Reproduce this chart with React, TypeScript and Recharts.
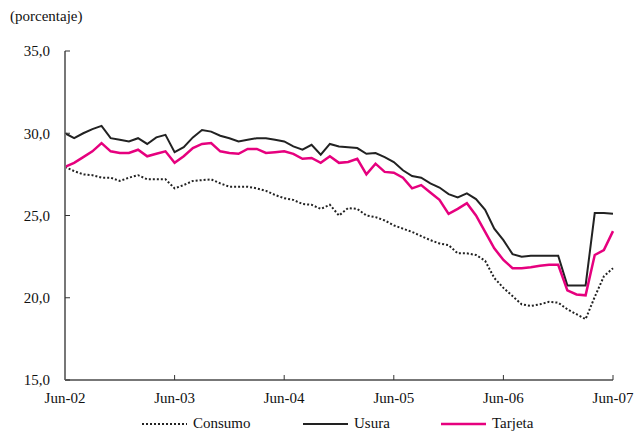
import { LineChart, Line, XAxis, YAxis } from "recharts";

const years = ["02", "03", "04", "05", "06", "07"];
const monthNames = ["Jun", "Jul", "Ago", "Sep", "Oct", "Nov", "Dic", "Ene", "Feb", "Mar", "Abr", "May"];

// monthly from Jun-02 to Jun-07
const months: string[] = [];
years.forEach((y, yi) => {
  monthNames.forEach((m, mi) => {
    if (yi === years.length - 1 && mi > 0) return;
    const yr = mi >= 7 ? years[yi + 1] : y;
    if (yr) months.push(`${m}-${yr}`);
  });
});

const xTicks = ["Jun-02", "Jun-03", "Jun-04", "Jun-05", "Jun-06", "Jun-07"];
const yTicks = [15, 20, 25, 30, 35];

const consumo = [
  27.95, 27.7, 27.5, 27.45, 27.3, 27.3, 27.1, 27.3, 27.45, 27.2, 27.2, 27.2,
  26.65, 26.85, 27.1, 27.15, 27.2, 26.95, 26.75, 26.75, 26.75, 26.65, 26.5, 26.25,
  26.05, 25.95, 25.7, 25.65, 25.4, 25.65, 25.0, 25.45, 25.4, 25.0, 24.9, 24.7,
  24.4, 24.2, 24.0, 23.75, 23.5, 23.3, 23.2, 22.7, 22.7, 22.6, 22.25, 21.2,
  20.6, 20.1, 19.6, 19.5, 19.6, 19.75, 19.7, 19.3, 19.0, 18.7, 20.05, 21.3, 21.8,
];

const usura = [
  30.0, 29.7, 30.0, 30.25, 30.45, 29.7, 29.6, 29.5, 29.7, 29.35, 29.75, 29.9,
  28.85, 29.15, 29.75, 30.2, 30.1, 29.85, 29.7, 29.5, 29.6, 29.7, 29.7, 29.6,
  29.5, 29.2, 29.0, 29.3, 28.7, 29.35, 29.2, 29.15, 29.1, 28.75, 28.8, 28.55,
  28.25, 27.75, 27.4, 27.3, 26.95, 26.7, 26.3, 26.1, 26.35, 26.0, 25.35, 24.2,
  23.5, 22.65, 22.5, 22.55, 22.55, 22.55, 22.55, 20.75, 20.75, 20.75, 25.15, 25.15, 25.1,
];

const tarjeta = [
  27.95, 28.2, 28.55, 28.9, 29.4, 28.9, 28.8, 28.8, 29.0, 28.6, 28.75, 28.9,
  28.2, 28.6, 29.1, 29.35, 29.4, 28.9, 28.8, 28.75, 29.05, 29.05, 28.8, 28.85,
  28.9, 28.75, 28.45, 28.5, 28.2, 28.6, 28.2, 28.25, 28.45, 27.5, 28.15, 27.65,
  27.6, 27.3, 26.65, 26.85, 26.4, 25.95, 25.1, 25.4, 25.75, 25.0, 24.0, 23.0,
  22.3, 21.8, 21.8, 21.85, 21.95, 22.0, 22.0, 20.45, 20.2, 20.15, 22.6, 22.9, 24.05,
];

const data = months.map((month, i) => ({
  month,
  consumo: consumo[i],
  usura: usura[i],
  tarjeta: tarjeta[i],
}));

const series = [
  { key: "consumo", name: "Consumo", color: "#222", width: 2, dash: "2 2", legendX: 142 },
  { key: "usura", name: "Usura", color: "#222", width: 2, dash: undefined, legendX: 303 },
  { key: "tarjeta", name: "Tarjeta", color: "#e6007e", width: 2.5, dash: undefined, legendX: 441 },
];

const font = "Liberation Serif, Times New Roman, DejaVu Serif, serif";
const fmt = (v: number) => v.toFixed(1).replace(".", ",");

export default function App() {
  const tickStyle = { fill: "#111", fontSize: 15, fontFamily: font };
  return (
    <div style={{ position: "absolute", left: 0, top: 0, width: 635, height: 433, fontFamily: font, background: "#fff" }}>
      <div style={{ position: "absolute", left: 10, top: 8, fontSize: 15, color: "#111" }}>(porcentaje)</div>
      <LineChart width={635} height={433} data={data} margin={{ top: 51, right: 22, left: 0, bottom: 23 }} style={{ fontFamily: font }}>
        <XAxis
          dataKey="month"
          ticks={xTicks}
          interval={0}
          height={30}
          tickSize={-5}
          tickMargin={17}
          tick={tickStyle}
          stroke="#777"
          axisLine={{ stroke: "#777", strokeWidth: 2 }}
          tickLine={{ stroke: "#333" }}
        />
        <XAxis xAxisId="top" dataKey="month" orientation="top" height={0} tick={false} tickLine={false} axisLine={{ stroke: "#333", strokeWidth: 1.5 }} />
        <YAxis
          domain={[15, 35]}
          ticks={yTicks}
          width={65}
          tickSize={-5}
          tickMargin={20}
          tickFormatter={fmt}
          tick={tickStyle}
          axisLine={{ stroke: "#777", strokeWidth: 2 }}
          tickLine={{ stroke: "#333" }}
        />
        <YAxis
          yAxisId="right"
          orientation="right"
          domain={[15, 35]}
          ticks={yTicks}
          width={0}
          tickSize={-5}
          tick={false}
          axisLine={{ stroke: "#555", strokeWidth: 1.5 }}
          tickLine={{ stroke: "#333" }}
        />
        {series.map((s) => (
          <Line
            key={s.key}
            type="linear"
            dataKey={s.key}
            name={s.name}
            stroke={s.color}
            strokeWidth={s.width}
            strokeDasharray={s.dash}
            dot={false}
            isAnimationActive={false}
          />
        ))}
      </LineChart>
      {series.map((s) => (
        <div
          key={s.key}
          style={{ position: "absolute", top: 415, left: s.legendX, display: "flex", alignItems: "center", fontSize: 15, color: "#111", lineHeight: "17px" }}
        >
          <svg width={45} height={6} style={{ marginRight: 6 }}>
            <line x1={0} y1={3} x2={45} y2={3} stroke={s.color} strokeWidth={s.width} strokeDasharray={s.dash} />
          </svg>
          <span>{s.name}</span>
        </div>
      ))}
    </div>
  );
}
